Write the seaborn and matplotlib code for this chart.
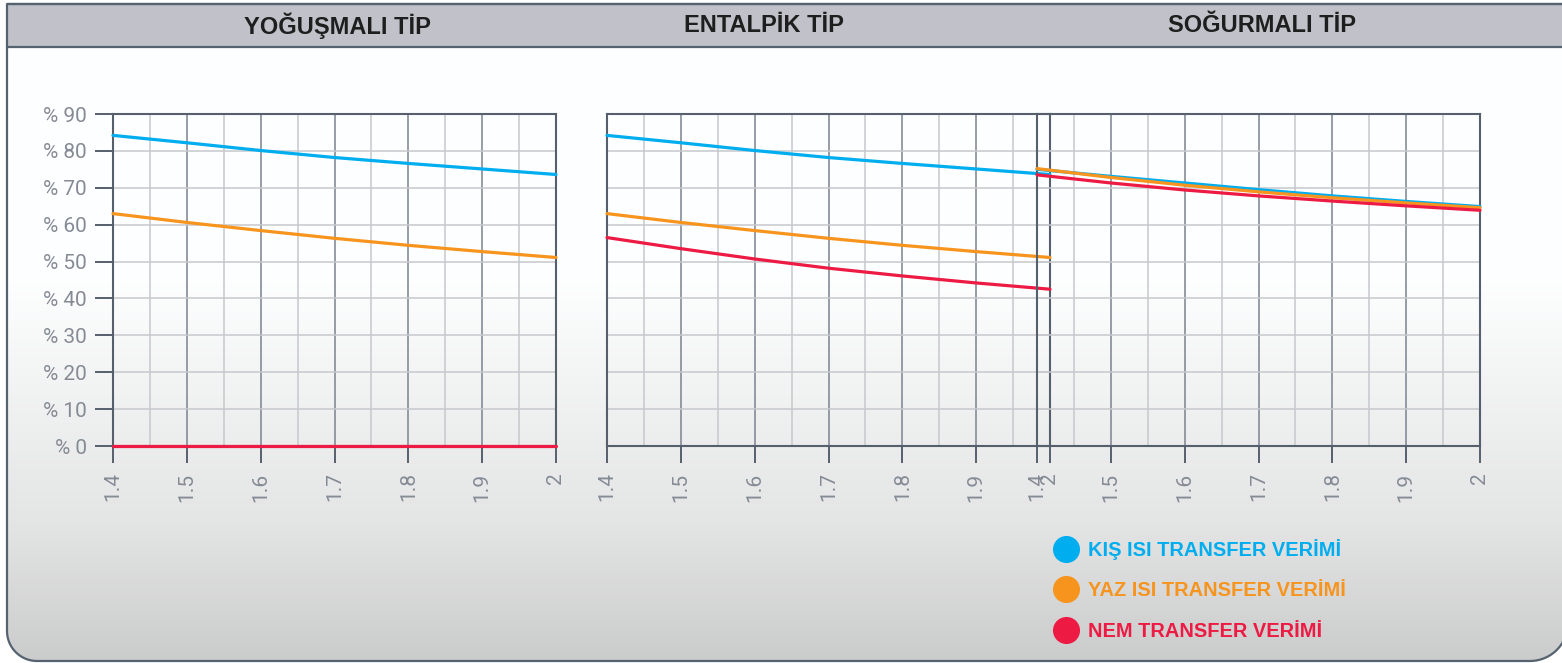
import numpy as np
import pandas as pd
import matplotlib
matplotlib.use("Agg")
import matplotlib.pyplot as plt
import seaborn as sns
from matplotlib.path import Path
from matplotlib.patches import PathPatch, Rectangle
from matplotlib.lines import Line2D

# values
x_vals = [1.4, 1.5, 1.6, 1.7, 1.8, 1.9, 2.0]

yogusmali_kis = [84.2, 82.2, 80.1, 78.2, 76.6, 75.1, 73.6]
yogusmali_yaz = [63.0, 60.6, 58.4, 56.3, 54.4, 52.7, 51.1]
yogusmali_nem = [0.0, 0.0, 0.0, 0.0, 0.0, 0.0, 0.0]

entalpik_kis = [84.2, 82.2, 80.1, 78.2, 76.6, 75.1, 73.6]
entalpik_yaz = [63.0, 60.6, 58.4, 56.3, 54.4, 52.7, 51.1]
entalpik_nem = [56.5, 53.5, 50.7, 48.2, 46.1, 44.2, 42.5]

sogurmali_kis = [75.0, 73.1, 71.3, 69.5, 67.8, 66.3, 64.9]
sogurmali_yaz = [75.2, 72.8, 70.7, 68.9, 67.3, 65.9, 64.6]
sogurmali_nem = [73.5, 71.3, 69.4, 67.8, 66.4, 65.1, 63.9]

panel_titles = ["YOĞUŞMALI TİP", "ENTALPİK TİP", "SOĞURMALI TİP"]
series_names = ["KIŞ ISI TRANSFER VERİMİ", "YAZ ISI TRANSFER VERİMİ", "NEM TRANSFER VERİMİ"]
series_colors = ["#00aeef", "#f7941d", "#ed1b43"]
y_ticks = [0, 10, 20, 30, 40, 50, 60, 70, 80, 90]
y_tick_labels = [f"% {v}" for v in y_ticks]
x_tick_labels = ["1.4", "1.5", "1.6", "1.7", "1.8", "1.9", "2"]

panels = [
    (yogusmali_kis, yogusmali_yaz, yogusmali_nem),
    (entalpik_kis, entalpik_yaz, entalpik_nem),
    (sogurmali_kis, sogurmali_yaz, sogurmali_nem),
]

sns.set_style("white")
plt.rcParams['font.family'] = ['Liberation Sans', 'DejaVu Sans']

W, H = 1562, 663
fig = plt.figure(figsize=(W / 100, H / 100), dpi=100)

# background: frame, header band and soft gradient
bg = fig.add_axes([0, 0, 1, 1], zorder=-10)
bg.set_xlim(0, W)
bg.set_ylim(H, 0)
bg.axis("off")


def corner(cx, cy, r, a0, a1, n=20):
    a = np.radians(np.linspace(a0, a1, n))
    return list(zip(cx + r * np.cos(a), cy + r * np.sin(a)))


L, T, R, B = 7, 4, 1568, 661
r_left, r_right = 30, 38
outline = ([(L, T), (R, T)]
           + corner(R - r_right, B - r_right, r_right, 0, 90)
           + corner(L + r_left, B - r_left, r_left, 90, 180)
           + [(L, T)])
frame = PathPatch(Path(outline), facecolor="none", edgecolor="#55626f", lw=1.6, zorder=4)
bg.add_patch(frame)

rows = np.arange(H)
shade = np.interp(rows, [0, 280, 446, 520, 661], [1.0, 1.0, 0.93, 0.90, 0.80])
grad = np.dstack([shade * 0.995, shade * 0.997, shade * 1.0]).clip(0, 1)
grad = np.repeat(grad.reshape(H, 1, 3), 2, axis=1)
img = bg.imshow(grad, extent=[0, W, H, 0], aspect="auto", zorder=0)
img.set_clip_path(frame)
bg.set_xlim(0, W)
bg.set_ylim(H, 0)

bg.add_patch(Rectangle((L, T), R - L, 43, facecolor="#c1c2c9", edgecolor="none", zorder=1))
bg.plot([L, W], [T, T], color="#55626f", lw=1.6, zorder=2)
bg.plot([L, W], [T + 43, T + 43], color="#55626f", lw=1.6, zorder=2)

title_x = [337, 764, 1262]
for tx, title in zip(title_x, panel_titles):
    bg.text(tx, 26, title, ha="center", va="center", fontsize=17,
            fontweight="bold", color="#1e1e1e", zorder=3)

# chart panels, placed in pixel coordinates
panel_left = [113, 607, 1037]
panel_w = 443
ax_top, ax_bot = 114, 446

grid_dark = "#848c98"
grid_light = "#c7c8cd"
spine_col = "#56606d"
tick_col = "#858b95"
tick_font = ["Roboto", "DejaVu Sans"]

for i, (kis, yaz, nem) in enumerate(panels):
    ax = fig.add_axes([panel_left[i] / W, 1 - ax_bot / H,
                       panel_w / W, (ax_bot - ax_top) / H], zorder=i)
    ax.set_facecolor("none")

    df = pd.DataFrame({
        "x": x_vals * 3,
        "y": kis + yaz + nem,
        "seri": [series_names[0]] * 7 + [series_names[1]] * 7 + [series_names[2]] * 7,
    })
    sns.lineplot(data=df, x="x", y="y", hue="seri", hue_order=series_names,
                 palette=series_colors, linewidth=2.3, legend=False, ax=ax,
                 clip_on=False, zorder=5)

    ax.set_xlim(1.4, 2.0)
    ax.set_ylim(0, 90)
    ax.set_xlabel("")
    ax.set_ylabel("")

    ax.set_xticks(x_vals)
    ax.set_xticklabels(x_tick_labels, rotation=90)
    ax.set_xticks(np.arange(1.45, 2.0, 0.1), minor=True)
    ax.set_yticks(y_ticks)

    ax.set_axisbelow(True)
    ax.grid(which="major", axis="x", color=grid_dark, lw=1.2)
    ax.grid(which="minor", axis="x", color=grid_light, lw=1.1)
    ax.grid(which="major", axis="y", color=grid_light, lw=1.1)

    for sp in ax.spines.values():
        sp.set_visible(True)
        sp.set_color(spine_col)
        sp.set_linewidth(1.5)

    ax.tick_params(axis="x", which="major", direction="out", length=12, width=1.4,
                   color=spine_col, labelcolor=tick_col, labelsize=15, pad=7, bottom=True)
    ax.tick_params(axis="x", which="minor", length=0)
    if i == 0:
        ax.set_yticklabels(y_tick_labels)
        ax.tick_params(axis="y", direction="out", length=13, width=1.4, color=spine_col,
                       labelcolor=tick_col, labelsize=15, pad=6, left=True)
    else:
        ax.tick_params(axis="y", length=0, labelleft=False)

    for lab in ax.get_xticklabels() + ax.get_yticklabels():
        lab.set_fontfamily(tick_font)
        lab.set_fontweight("normal")

handles = [Line2D([0], [0], linestyle="none", marker="o", markersize=19.5,
                  markerfacecolor=c, markeredgecolor="none") for c in series_colors]
leg = fig.legend(handles, series_names, loc="upper left",
                 bbox_to_anchor=(1056 / W, 1 - 539 / H), frameon=False,
                 fontsize=14.4, handlelength=1.0, handletextpad=0.6,
                 labelspacing=1.07, borderpad=0, borderaxespad=0)
for txt, c in zip(leg.get_texts(), series_colors):
    txt.set_color(c)
    txt.set_fontweight("bold")

fig.savefig("out.png", dpi=100)
